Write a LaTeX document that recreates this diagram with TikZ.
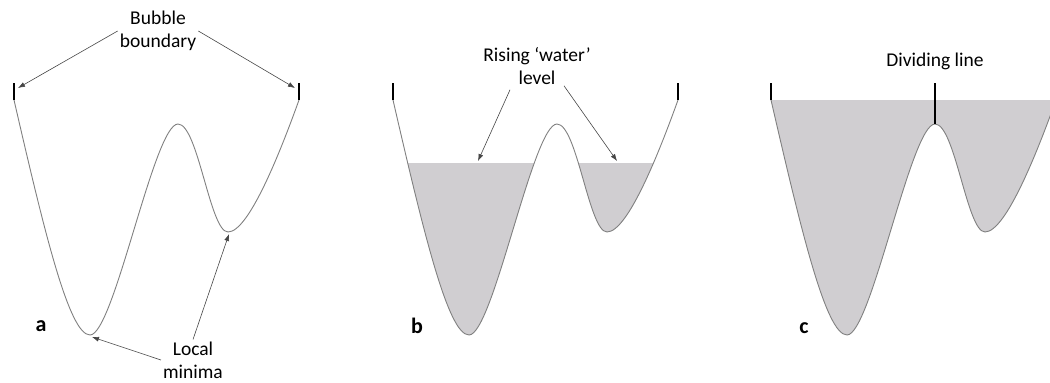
\documentclass[tikz,border=0pt]{standalone}
\usepackage{fontspec}
\setmainfont{Carlito}
\usetikzlibrary{arrows.meta}

\definecolor{watergray}{RGB}{208,206,209}
\definecolor{curvegray}{RGB}{128,128,128}
\definecolor{pointergray}{RGB}{70,70,70}

% one bubble profile, left boundary at x=0
\newcommand{\bubblecurve}{(0,100) .. controls (30,230) and (55,335) .. (76,335)
  .. controls (100,335) and (140,124) .. (164,124)
  .. controls (184,124) and (196,232) .. (214,232)
  .. controls (235,232) and (267,150) .. (285,100)}

\tikzset{
  curveline/.style={draw=curvegray,line width=0.9pt},
  boundtick/.style={draw=black,line width=1.6pt},
  water/.style={fill=watergray},
  lbl/.style={font=\fontsize{19.5}{23}\selectfont,align=center,inner sep=2pt},
  panel/.style={font=\fontsize{22}{24}\selectfont\bfseries},
  pointer/.style={draw=pointergray,line width=0.6pt,-{Latex[length=7pt,width=5pt]}}
}

\begin{document}
\begin{tikzpicture}[x=1pt,y=-1pt]
\clip (0,0) rectangle (1050,383);

% panel a
\begin{scope}[xshift=14pt]
\draw[curveline] \bubblecurve;
\draw[boundtick] (0,83) -- (0,100);
\draw[boundtick] (285,83) -- (285,100);
\coordinate (bl) at (4,88);
\coordinate (br) at (281,88);
\coordinate (m1) at (78,337);
\coordinate (m2) at (215,234);
\end{scope}
\node[lbl] (bubble) at (158,31) {Bubble\\boundary};
\node[lbl] (minima) at (193,360) {Local\\minima};
\node[panel] (a) at (41,326) {a};
\draw[pointer] (bubble.west) -- (bl);
\draw[pointer] (bubble.east) -- (br);
\draw[pointer] (minima.west) -- (m1);
\draw[pointer] (minima.north) -- (m2);

% panel b
\begin{scope}[xshift=393pt]
\begin{scope}
\clip \bubblecurve -- cycle;
\fill[water] (0,163) rectangle (285,340);
\end{scope}
\draw[curveline] \bubblecurve;
\draw[boundtick] (0,83) -- (0,100);
\draw[boundtick] (285,83) -- (285,100);
\coordinate (wl) at (85,161);
\coordinate (wr) at (224,161);
\end{scope}
\node[lbl] (rising) at (537,66) {Rising ‘water’\\level};
\node[panel] (b) at (417,326) {b};
\draw[pointer] ([xshift=-27pt,yshift=-3pt]rising.south) -- (wl);
\draw[pointer] ([xshift=27pt,yshift=1pt]rising.south) -- (wr);

% panel c
\begin{scope}[xshift=771pt]
\fill[water] \bubblecurve -- cycle;
\draw[curveline] \bubblecurve;
\draw[boundtick] (0,83) -- (0,100);
\draw[boundtick] (164,83) -- (164,124);
\end{scope}
\node[lbl] (divide) at (935,61) {Dividing line};
\node[panel] (c) at (804,328) {c};
\end{tikzpicture}
\end{document}
